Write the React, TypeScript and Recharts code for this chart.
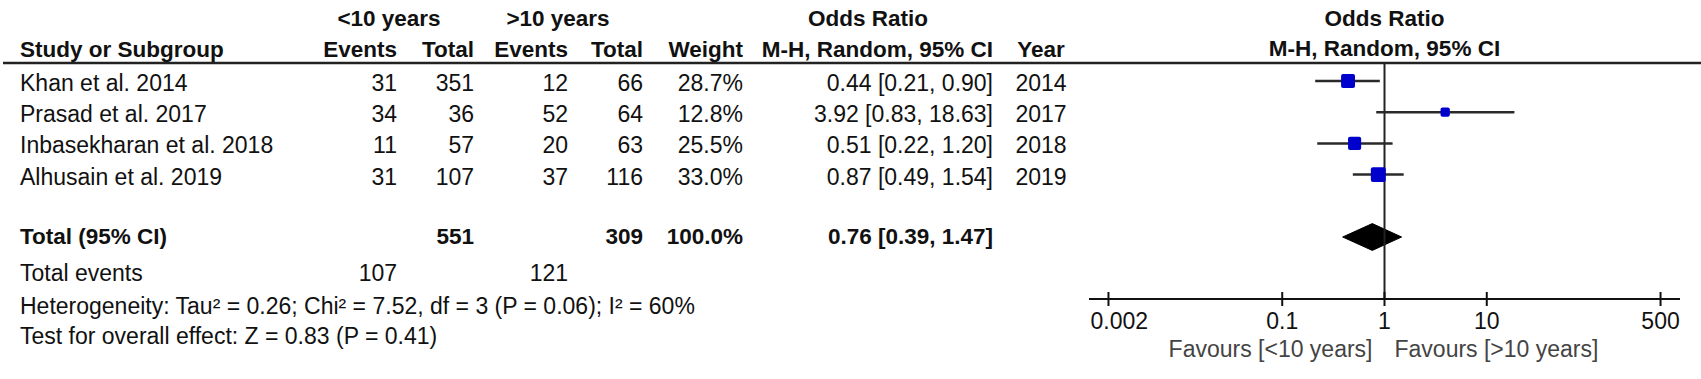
import React from "react";
import {
  ComposedChart,
  Area,
  Scatter,
  ErrorBar,
  XAxis,
  YAxis,
  ReferenceLine,
  Customized,
} from "recharts";

// study rows
const studies = [
  "Khan et al. 2014",
  "Prasad et al. 2017",
  "Inbasekharan et al. 2018",
  "Alhusain et al. 2019",
];
const eventsUnder10 = [31, 34, 11, 31];
const totalUnder10 = [351, 36, 57, 107];
const eventsOver10 = [12, 52, 20, 37];
const totalOver10 = [66, 64, 63, 116];
const weights = [28.7, 12.8, 25.5, 33.0];
const oddsRatios = [0.44, 3.92, 0.51, 0.87];
const ciLow = [0.21, 0.83, 0.22, 0.49];
const ciHigh = [0.9, 18.63, 1.2, 1.54];
const years = [2014, 2017, 2018, 2019];

// pooled result
const pooledOr = 0.76;
const pooledCi = [0.39, 1.47];
const pooledTotals = [551, 309];
const pooledEvents = [107, 121];

const xTicks = [0.002, 0.1, 1, 10, 500];

const W = 1701;
const H = 379;
const FONT = '"Liberation Sans", Arial, sans-serif';
const INK = "#111";
const BLUE = "#0000cc";
const ROW0 = 81;
const ROW_H = 31.2;
const TOTAL_ROW = 5;
const AXIS_PAD = 1.55;
const DIAMOND_HALF = 0.43;

const points = studies.map((name, i) => ({
  name,
  x: oddsRatios[i],
  y: i,
  w: weights[i],
  err: [oddsRatios[i] - ciLow[i], ciHigh[i] - oddsRatios[i]],
}));

const diamond = [
  { x: pooledCi[0], band: [TOTAL_ROW, TOTAL_ROW] },
  { x: pooledOr, band: [TOTAL_ROW - DIAMOND_HALF, TOTAL_ROW + DIAMOND_HALF] },
  { x: pooledCi[1], band: [TOTAL_ROW, TOTAL_ROW] },
];

const fmtPct = (v: number) => v.toFixed(1) + "%";
const fmtCi = (o: number, l: number, h: number) =>
  `${o.toFixed(2)} [${l.toFixed(2)}, ${h.toFixed(2)}]`;

const T = ({
  x,
  y,
  children,
  anchor = "start",
  bold = false,
  fill = INK,
}: any) => (
  <text
    x={x}
    y={y}
    textAnchor={anchor}
    dominantBaseline='central'
    fontFamily={FONT}
    fontSize={bold ? 22.5 : 23}
    fontWeight={bold ? "bold" : "normal"}
    fill={fill}
  >
    {children}
  </text>
);

const COL = {
  name: 20,
  ev1: 397,
  tot1: 474,
  ev2: 568,
  tot2: 643,
  weight: 743,
  or: 993,
  year: 1041,
};

const Table = () => {
  const rowY = (i: number) => ROW0 + i * ROW_H + 2;
  return (
    <g>
      <T x={389} y={18} anchor='middle' bold>
        {"<10 years"}
      </T>
      <T x={558} y={18} anchor='middle' bold>
        {">10 years"}
      </T>
      <T x={868} y={18} anchor='middle' bold>
        Odds Ratio
      </T>
      <T x={COL.name} y={49} bold>
        Study or Subgroup
      </T>
      <T x={COL.ev1} y={49} anchor='end' bold>
        Events
      </T>
      <T x={COL.tot1} y={49} anchor='end' bold>
        Total
      </T>
      <T x={COL.ev2} y={49} anchor='end' bold>
        Events
      </T>
      <T x={COL.tot2} y={49} anchor='end' bold>
        Total
      </T>
      <T x={COL.weight} y={49} anchor='end' bold>
        Weight
      </T>
      <T x={COL.or} y={49} anchor='end' bold>
        M-H, Random, 95% CI
      </T>
      <T x={COL.year} y={49} anchor='middle' bold>
        Year
      </T>
      <line x1={3} x2={W} y1={63} y2={63} stroke='#222' strokeWidth={2.5} />

      {studies.map((s, i) => (
        <g key={s}>
          <T x={COL.name} y={rowY(i)}>
            {s}
          </T>
          <T x={COL.ev1} y={rowY(i)} anchor='end'>
            {eventsUnder10[i]}
          </T>
          <T x={COL.tot1} y={rowY(i)} anchor='end'>
            {totalUnder10[i]}
          </T>
          <T x={COL.ev2} y={rowY(i)} anchor='end'>
            {eventsOver10[i]}
          </T>
          <T x={COL.tot2} y={rowY(i)} anchor='end'>
            {totalOver10[i]}
          </T>
          <T x={COL.weight} y={rowY(i)} anchor='end'>
            {fmtPct(weights[i])}
          </T>
          <T x={COL.or} y={rowY(i)} anchor='end'>
            {fmtCi(oddsRatios[i], ciLow[i], ciHigh[i])}
          </T>
          <T x={COL.year} y={rowY(i)} anchor='middle'>
            {years[i]}
          </T>
        </g>
      ))}

      <T x={COL.name} y={236} bold>
        Total (95% CI)
      </T>
      <T x={COL.tot1} y={236} anchor='end' bold>
        {pooledTotals[0]}
      </T>
      <T x={COL.tot2} y={236} anchor='end' bold>
        {pooledTotals[1]}
      </T>
      <T x={COL.weight} y={236} anchor='end' bold>
        100.0%
      </T>
      <T x={COL.or} y={236} anchor='end' bold>
        {fmtCi(pooledOr, pooledCi[0], pooledCi[1])}
      </T>

      <T x={COL.name} y={273}>
        Total events
      </T>
      <T x={COL.ev1} y={273} anchor='end'>
        {pooledEvents[0]}
      </T>
      <T x={COL.ev2} y={273} anchor='end'>
        {pooledEvents[1]}
      </T>
      <T x={COL.name} y={306}>
        Heterogeneity: Tau² = 0.26; Chi² = 7.52, df = 3 (P = 0.06); I² = 60%
      </T>
      <T x={COL.name} y={336}>
        Test for overall effect: Z = 0.83 (P = 0.41)
      </T>
    </g>
  );
};

const Square = (p: any) => {
  const s = 2.6 * Math.sqrt(p.payload.w);
  return (
    <rect
      x={p.cx - s / 2}
      y={p.cy - s / 2}
      width={s}
      height={s}
      rx={2}
      fill={BLUE}
    />
  );
};

const Tick = ({ x, y, payload, index }: any) => (
  <g>
    <line x1={x} x2={x} y1={y - 7} y2={y + 7} stroke={INK} strokeWidth={2} />
    <T
      x={index === 0 ? x - 18 : x}
      y={y + 22}
      anchor={index === 0 ? "start" : "middle"}
    >
      {payload.value}
    </T>
  </g>
);

const NullLabel = ({ viewBox }: any) => {
  const { x, y, height } = viewBox;
  const bottom = y + height;
  return (
    <g>
      <T x={x} y={y - 45} anchor='middle' bold>
        Odds Ratio
      </T>
      <T x={x} y={y - 15} anchor='middle' bold>
        M-H, Random, 95% CI
      </T>
      <T x={x - 12} y={bottom + 50} anchor='end' fill='#444'>
        {"Favours [<10 years]"}
      </T>
      <T x={x + 10} y={bottom + 50} anchor='start' fill='#444'>
        {"Favours [>10 years]"}
      </T>
    </g>
  );
};

export default function App() {
  return (
    <div style={{ position: "absolute", left: 0, top: 0, background: "#fff" }}>
      <ComposedChart
        width={W}
        height={H}
        data={diamond}
        margin={{ top: 63, right: 21, bottom: 50, left: 1089 }}
      >
        <XAxis
          dataKey='x'
          type='number'
          scale='log'
          domain={[xTicks[0] / AXIS_PAD, xTicks[xTicks.length - 1] * AXIS_PAD]}
          allowDataOverflow
          ticks={xTicks}
          interval={0}
          height={30}
          tickSize={0}
          tickMargin={0}
          tickLine={false}
          axisLine={{ stroke: INK, strokeWidth: 2 }}
          tick={<Tick />}
        />
        <YAxis
          dataKey='y'
          type='number'
          hide
          width={0}
          reversed
          domain={[-0.577, 6.987]}
          allowDataOverflow
        />
        <Customized component={<Table />} />
        <Area
          type='linear'
          dataKey='band'
          stroke='#000'
          strokeWidth={1}
          fill='#000'
          fillOpacity={1}
          dot={false}
          activeDot={false}
          isAnimationActive={false}
        />
        <ReferenceLine
          x={1}
          stroke='#222'
          strokeWidth={2}
          label={<NullLabel />}
        />
        <Scatter data={points} shape={<Square />} isAnimationActive={false}>
          <ErrorBar
            dataKey='err'
            direction='x'
            width={0}
            stroke='#2a2a2a'
            strokeWidth={2.5}
            isAnimationActive={false}
          />
        </Scatter>
      </ComposedChart>
    </div>
  );
}
